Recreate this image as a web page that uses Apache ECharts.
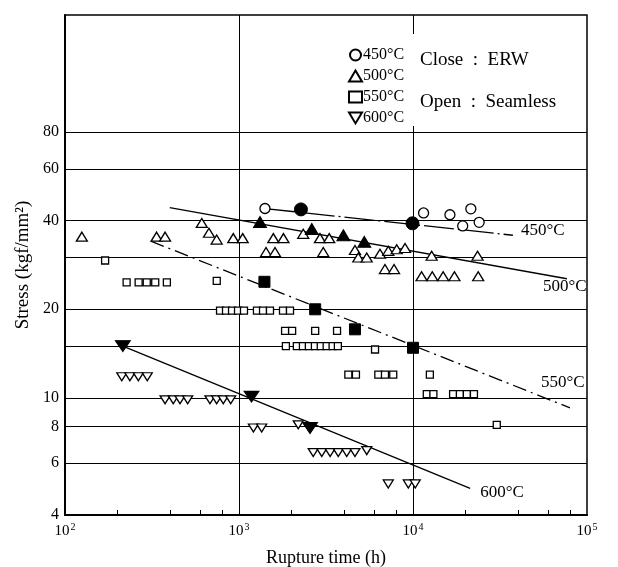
<!DOCTYPE html>
<html>
<head>
<meta charset="utf-8">
<script src="https://cdn.jsdelivr.net/npm/echarts@6/dist/echarts.min.js"></script>
<style>
  html, body { margin: 0; padding: 0; background: #fff; }
  #chart { width: 618px; height: 567px; }
</style>
</head>
<body>
<div id="chart"></div>
<script>
const serif = '"Liberation Serif", "Times New Roman", serif';

// axis values
const yTickValues = [4, 6, 8, 10, 20, 40, 60, 80];
const yGridValues = [6, 8, 10, 15, 20, 30, 40, 60, 80];
const xLabelValues = [100, 1000, 10000, 100000];
const xGridValues = [1000, 10000];
const xMinorTicks = [200, 400, 600, 800, 2000, 4000, 6000, 8000, 20000, 40000, 60000, 80000];

// [rupture time (h), stress (kgf/mm2)]  open = seamless, closed = ERW
const open450 = [[1410, 44.0], [11500, 42.5], [16300, 41.9], [21500, 43.9], [19300, 38.4], [24000, 39.5]];
const closed450 = [[2270, 43.7], [9930, 39.2]];

const open500 = [
  [125, 35.3], [336, 35.3], [376, 35.3], [611, 39.3], [672, 36.4], [744, 34.5],
  [927, 34.9], [1050, 34.9], [1575, 34.9], [1800, 34.9], [2340, 36.1], [2920, 34.9], [3300, 34.9],
  [1430, 31.3], [1610, 31.3], [3050, 31.3], [4640, 31.8], [4850, 30.0], [5420, 30.0],
  [6460, 30.9], [7210, 31.6], [8060, 32.0], [9000, 32.3], [6900, 27.4], [7780, 27.4],
  [12800, 30.4], [23500, 30.4], [11200, 25.9], [12900, 25.9], [14900, 25.9], [17300, 25.9], [23700, 25.9]
];
const closed500 = [[1320, 39.6], [2620, 37.5], [3980, 35.7], [5250, 33.9]];

const open550 = [
  [170, 29.3], [226, 24.7], [265, 24.7], [295, 24.7], [330, 24.7], [385, 24.7], [745, 25.0],
  [778, 19.8], [842, 19.8], [912, 19.8], [987, 19.8], [1068, 19.8], [1268, 19.8], [1374, 19.8],
  [1507, 19.8], [1790, 19.8], [1964, 19.8],
  [1840, 16.9], [2020, 16.9], [2740, 16.9], [3660, 16.9],
  [1860, 15], [2150, 15], [2330, 15], [2520, 15], [2730, 15], [2950, 15], [3190, 15], [3450, 15], [3700, 15],
  [6050, 14.6], [4250, 12], [4700, 12], [6320, 12], [6900, 12], [7700, 12], [12500, 12],
  [12000, 10.3], [13100, 10.3], [17000, 10.3], [18600, 10.3], [20400, 10.3], [22400, 10.3], [30300, 8.1]
];
const closed550 = [[1400, 24.8], [2740, 20], [4640, 17.1], [10000, 14.8]];

const open600 = [
  [212, 11.8], [236, 11.8], [264, 11.8], [297, 11.8],
  [376, 9.85], [419, 9.85], [458, 9.85], [507, 9.85], [681, 9.85], [744, 9.85], [812, 9.85], [896, 9.85],
  [1210, 7.9], [1350, 7.9], [2190, 8.1],
  [2670, 6.52], [2990, 6.52], [3340, 6.52], [3720, 6.52], [4160, 6.52], [4640, 6.52], [5420, 6.62],
  [7210, 5.1], [9400, 5.1], [10300, 5.1]
];
const closed600 = [[215, 15], [1180, 10.1], [2560, 7.9]];

// fitted master lines
const fit450 = [[1410, 44.0], [37500, 35.7]];
const fit500 = [[400, 44.3], [76700, 25.4]];
const fit550 = [[311, 34.1], [79800, 9.25]];
const fit600 = [[215, 15], [21300, 4.93]];

const chart = echarts.init(document.getElementById('chart'));

function fitLine(label, data, type, offset) {
  return {
    name: 'fit ' + label, type: 'line', data: data, symbol: 'none', z: 3,
    lineStyle: {color: '#000', width: 1.3, type: type},
    endLabel: {show: true, formatter: label, offset: offset, color: '#000', fontFamily: serif, fontSize: 17},
    silent: true
  };
}

function marks(name, data, symbol, size, filled, rotate) {
  return {
    name: name, type: 'scatter', data: data, symbol: symbol, symbolSize: size,
    symbolRotate: rotate || 0, z: filled ? 6 : 5,
    itemStyle: filled
      ? {color: '#000', borderColor: '#000', borderWidth: 1, opacity: 1}
      : {color: '#fff', borderColor: '#000', borderWidth: 1.3, opacity: 1}
  };
}

const gridSeries = fitLine('450°C', fit450, [30, 4, 2, 4], [0, -5]);
gridSeries.markLine = {
  silent: true, symbol: 'none', animation: false,
  label: {show: false},
  lineStyle: {color: '#000', width: 1, type: 'solid'},
  data: yGridValues.map(v => ({yAxis: v})).concat(xGridValues.map(v => ({xAxis: v})))
};

const option = {
  animation: false,
  backgroundColor: '#fff',
  grid: {
    left: 65, right: 31, top: 15, bottom: 52, outerBoundsMode: 'none',
    show: true, borderColor: '#000', borderWidth: 1.5
  },
  legend: {
    data: ['450°C', '500°C', '550°C', {name: '600°C', icon: 'path://M0,0L12,0L6,10Z'}],
    orient: 'vertical', left: 343, top: 42, z: 100,
    itemWidth: 13, itemHeight: 11, itemGap: 5,
    textStyle: {fontFamily: serif, fontSize: 16, color: '#000', padding: [0, 0, 0, -4]},
    selectedMode: false
  },
  xAxis: {
    type: 'log', logBase: 10, min: 100, max: 100000,
    axisLine: {lineStyle: {color: '#000', width: 2}},
    axisTick: {show: true, inside: true, length: 5, customValues: xMinorTicks, lineStyle: {color: '#000'}},
    axisLabel: {
      customValues: xLabelValues, margin: 7, color: '#000',
      formatter: v => '{b|10}{s|' + Math.round(Math.log10(v)) + '}',
      rich: {
        b: {fontFamily: serif, fontSize: 15, color: '#000'},
        s: {fontFamily: serif, fontSize: 10, color: '#000', padding: [0, 0, 8, 1]}
      }
    },
    splitLine: {show: false},
    name: 'Rupture time (h)', nameLocation: 'middle', nameGap: 34,
    nameTextStyle: {fontFamily: serif, fontSize: 18, color: '#000'}
  },
  yAxis: {
    type: 'log', logBase: 10, min: 4, max: 200,
    axisLine: {show: true, lineStyle: {color: '#000', width: 2}},
    axisTick: {show: true, inside: true, length: 4, customValues: yTickValues, lineStyle: {color: '#000'}},
    axisLabel: {customValues: yTickValues, margin: 6, color: '#000', fontFamily: serif, fontSize: 16},
    splitLine: {show: false},
    name: 'Stress (kgf/mm²)', nameLocation: 'middle', nameGap: 32,
    nameTextStyle: {fontFamily: serif, fontSize: 19, color: '#000'}
  },
  graphic: [
    {type: 'rect', shape: {x: 338, y: 34, width: 247, height: 92}, style: {fill: '#fff'}, z: 50, silent: true},
    {type: 'text', x: 420, y: 60, z: 100,
      style: {text: 'Close  :  ERW', fontFamily: serif, fontSize: 19, fill: '#000', verticalAlign: 'middle'}},
    {type: 'text', x: 420, y: 102, z: 100,
      style: {text: 'Open  :  Seamless', fontFamily: serif, fontSize: 19, fill: '#000', verticalAlign: 'middle'}}
  ],
  series: [
    gridSeries,
    fitLine('500°C', fit500, 'solid', [-32, 8]),
    fitLine('550°C', fit550, [14, 5, 2, 5], [-37, -25]),
    fitLine('600°C', fit600, 'solid', [2, 4]),
    marks('450°C', open450, 'circle', 10, false),
    marks('500°C', open500, 'triangle', [11, 9], false),
    marks('550°C', open550, 'rect', 7, false),
    marks('600°C', open600, 'triangle', [10, 8], false, 180),
    marks('450°C ERW', closed450, 'circle', 13, true),
    marks('500°C ERW', closed500, 'triangle', [13, 11], true),
    marks('550°C ERW', closed550, 'rect', 11, true),
    marks('600°C ERW', closed600, 'triangle', [15, 11], true, 180)
  ]
};
chart.setOption(option);
</script>
</body>
</html>
